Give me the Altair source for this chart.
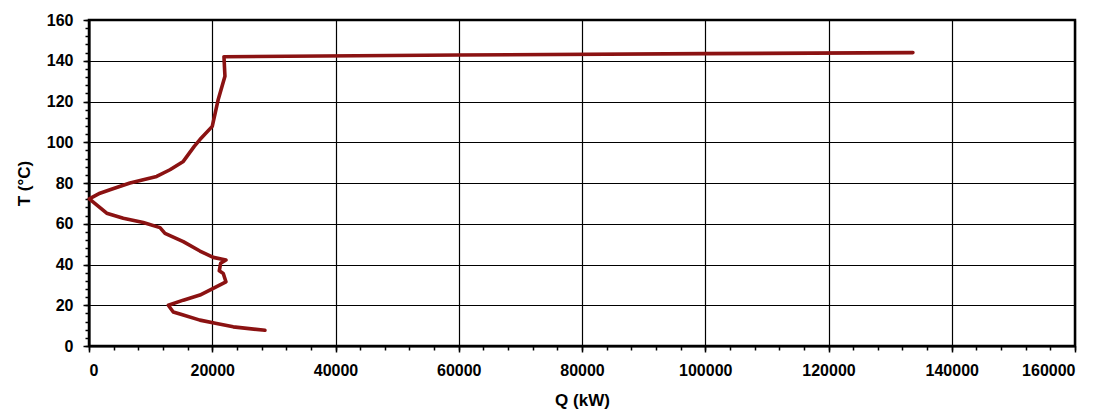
import altair as alt
import pandas as pd

q_kw = [28550, 23400, 20710, 18000, 15030, 13670, 12870, 15300, 18000, 20160,
        22220, 21790, 21140, 21360, 22220, 20160, 18000, 15300, 12330, 11520,
        8810, 5560, 2870, 50, 1780, 3400, 6650, 8810, 10980, 13140,
        15300, 17080, 18000, 20000, 20970, 22060, 21900, 60000, 100000, 133700]
t_c = [7.7, 9.4, 11.0, 12.7, 15.5, 16.7, 20.0, 22.5, 25.0, 28.3,
       31.5, 35.6, 36.9, 40.6, 42.2, 43.5, 46.6, 51.2, 55.3, 58.1,
       60.6, 62.7, 65.2, 72.2, 75.0, 76.7, 80.0, 81.6, 83.2, 86.5,
       90.6, 98.0, 101.3, 107.8, 121.0, 132.4, 142.0, 142.8, 143.5, 144.0]

x_major = [0, 20000, 40000, 60000, 80000, 100000, 120000, 140000, 160000]
y_major = [0, 20, 40, 60, 80, 100, 120, 140, 160]
x_minor = list(range(0, 160001, 4000))
y_minor = list(range(0, 161, 4))

df = pd.DataFrame({"Q": q_kw, "T": t_c, "i": list(range(len(q_kw)))})

FONT = "Liberation Sans"
xs = alt.Scale(domain=[0, 160000], nice=False, zero=True)
ys = alt.Scale(domain=[0, 160], nice=False, zero=True)

minor = alt.Chart(df).mark_line(opacity=0).encode(
    x=alt.X("Q:Q", scale=xs, axis=alt.Axis(
        orient="bottom", values=x_minor, labels=False, grid=False, domain=False,
        ticks=True, tickSize=4, tickColor="black", tickWidth=1.5, title=None)),
    y=alt.Y("T:Q", scale=ys, axis=alt.Axis(
        orient="left", values=y_minor, labels=False, grid=False, domain=False,
        ticks=True, tickSize=4, tickColor="black", tickWidth=1.5, title=None)),
    order="i:Q",
)

major = alt.Chart(df).mark_line(color="#8B1212", strokeWidth=3.6,
                                strokeJoin="round", strokeCap="round").encode(
    x=alt.X("Q:Q", scale=xs, axis=alt.Axis(
        orient="bottom", values=x_major, format="d", grid=True, gridColor="black",
        gridOpacity=1, gridWidth=1.2, domain=True, domainColor="black", domainWidth=2,
        ticks=True, tickSize=6, tickColor="black", tickWidth=1.5,
        labelFont=FONT, labelFontSize=16, labelFontWeight="bold", labelColor="black",
        labelPadding=10, title="Q (kW)", titleFont=FONT, titleFontSize=17,
        titleFontWeight="bold", titleColor="black", titlePadding=14)),
    y=alt.Y("T:Q", scale=ys, axis=alt.Axis(
        orient="left", values=y_major, format="d", grid=True, gridColor="black",
        gridOpacity=1, gridWidth=1.2, domain=True, domainColor="black", domainWidth=2,
        ticks=True, tickSize=6, tickColor="black", tickWidth=1.5,
        labelFont=FONT, labelFontSize=16, labelFontWeight="bold", labelColor="black",
        labelPadding=10, title="T (°C)", titleFont=FONT, titleFontSize=17,
        titleFontWeight="bold", titleColor="black", titlePadding=13)),
    order="i:Q",
)

chart = alt.layer(minor, major).resolve_axis(
    x="independent", y="independent"
).properties(
    width=986, height=326,
    autosize=alt.AutoSizeParams(type="none"),
    padding={"left": 89, "top": 20, "right": 36, "bottom": 73},
    background="white",
).configure_view(stroke="black", strokeWidth=2.5)

chart.save("out.html", embed_options={"renderer": "svg", "actions": False})
